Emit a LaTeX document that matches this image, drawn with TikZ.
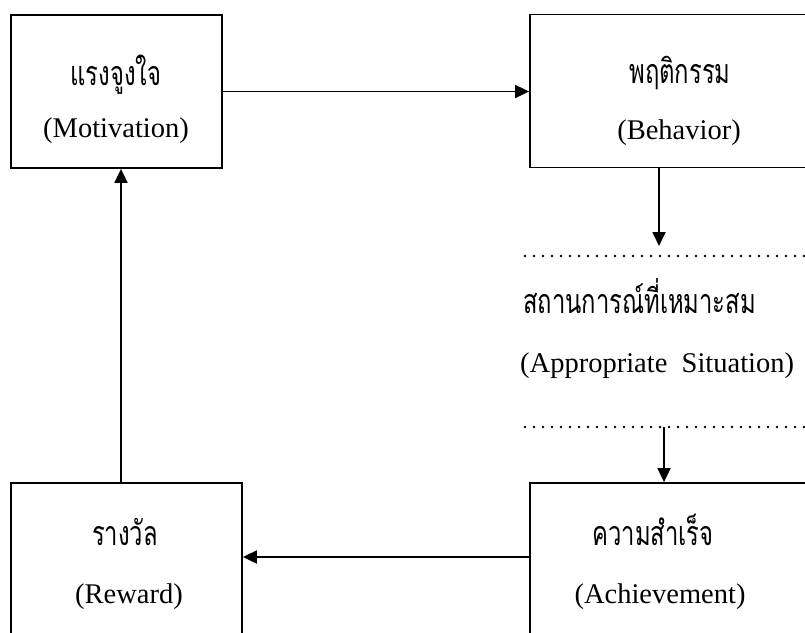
\documentclass[tikz,border=0pt]{standalone}
\usepackage{fontspec}
\setmainfont{Liberation Serif}
\newfontfamily\thaifont[Script=Thai,FakeStretch=0.7]{Loma}
\usetikzlibrary{arrows.meta}
\begin{document}
\begin{tikzpicture}[x=1pt,y=-1pt,
 box/.style={draw, line width=1.8pt, inner sep=0pt},
 arr/.style={line width=1.8pt, -{Triangle[length=14pt,width=13pt]}},
 en/.style={anchor=base, font=\fontsize{28.5}{34}\selectfont, inner sep=0pt},
 th/.style={anchor=base, font=\thaifont\fontsize{34}{40}\selectfont, inner sep=0pt},
 dotline/.style={line width=2.6pt, line cap=round, dash pattern=on 0pt off 9pt}
]
\useasboundingbox (0,0) rectangle (805,632);
\clip (0,0) rectangle (805,632);
\node[box, minimum width=211pt, minimum height=153pt] (mot) at (116.5,91.5) {};
\node[box, minimum width=294pt, minimum height=153pt] (beh) at (677,91) {};
\node[box, minimum width=294pt, minimum height=170pt] (ach) at (677,568) {};
\node[box, minimum width=231pt, minimum height=170pt] (rew) at (126.5,568) {};
\node[th] (motth) at (116,85) {แรงจูงใจ};
\node[en] (moten) at (116,137) {(Motivation)};
\node[th] (behth) at (680,83) {พฤติกรรม};
\node[en] (behen) at (679,139) {(Behavior)};
\node[th] (achth) at (653,545) {ความสำเร็จ};
\node[en] (achen) at (660,603) {(Achievement)};
\node[th] (rewth) at (125,545) {รางวัล};
\node[en] (rewen) at (129,603) {(Reward)};
\node[th, anchor=base west] (sitth) at (523,313) {สถานการณ์ที่เหมาะสม};
\node[en, anchor=base west] (siten) at (520,372) {(Appropriate\ \ Situation)};
\coordinate (d1a) at (525,256); \coordinate (d1b) at (806,256);
\coordinate (d2a) at (525,427); \coordinate (d2b) at (806,427);
\draw[dotline] (d1a) -- (d1b);
\draw[dotline] (d2a) -- (d2b);
\draw[arr] (mot.east) -- (mot.east -| beh.west);
\coordinate (b1) at (659,246);
\draw[arr] (beh.south -| b1) -- (b1);
\coordinate (a1) at (664,427);
\draw[arr] (a1) -- (a1 |- ach.north);
\coordinate (h1) at (0,557);
\draw[arr] (ach.west |- h1) -- (rew.east |- h1);
\coordinate (r1) at (121,0);
\draw[arr] (rew.north -| r1) -- (mot.south -| r1);
\end{tikzpicture}
\end{document}
